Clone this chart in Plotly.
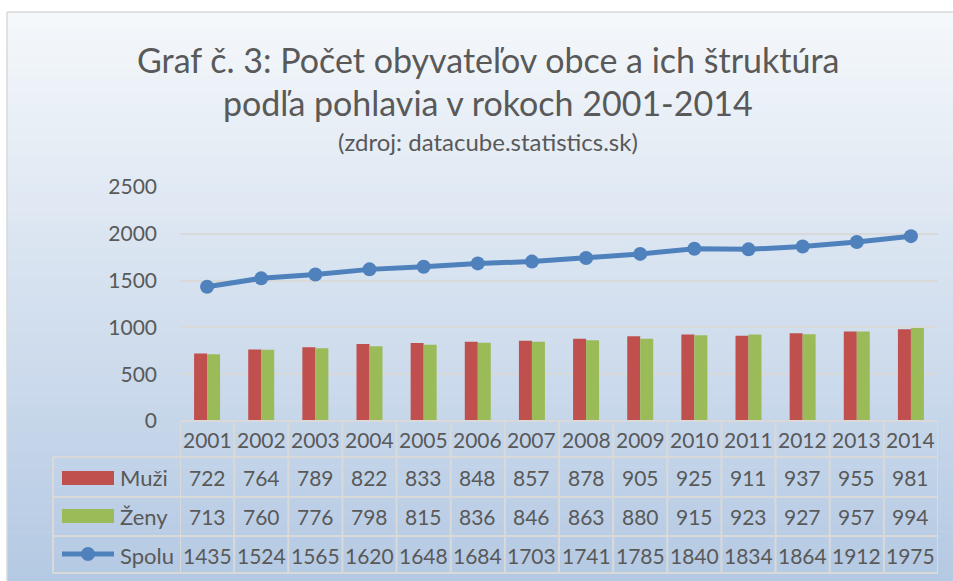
import plotly.graph_objects as go

years = ['2001', '2002', '2003', '2004', '2005', '2006', '2007',
         '2008', '2009', '2010', '2011', '2012', '2013', '2014']
muzi = [722, 764, 789, 822, 833, 848, 857, 878, 905, 925, 911, 937, 955, 981]
zeny = [713, 760, 776, 798, 815, 836, 846, 863, 880, 915, 923, 927, 957, 994]
spolu = [1435, 1524, 1565, 1620, 1648, 1684, 1703, 1741, 1785, 1840, 1834, 1864, 1912, 1975]
series_names = ['Muži', 'Ženy', 'Spolu']

W, H = 953, 581
# pixel coordinates of the plot area
L, R, T, B = 180, 938, 187, 421
FONT = 'Lato'
TXT = '#595959'
GRID = '#D9D9D9'
RED = '#C0504D'
GREEN = '#9BBB59'
BLUE = '#4F81BD'


def px(p):
    return (p - L) / (R - L)


def py(p):
    return (B - p) / (B - T)


fig = go.Figure()
fig.add_trace(go.Bar(x=years, y=muzi, name=series_names[0], marker_color=RED,
                     marker_line_width=0))
fig.add_trace(go.Bar(x=years, y=zeny, name=series_names[1], marker_color=GREEN,
                     marker_line_width=0))
fig.add_trace(go.Scatter(x=years, y=spolu, name=series_names[2], mode='lines+markers',
                         line=dict(color=BLUE, width=5),
                         marker=dict(color=BLUE, size=14)))

shapes = []
# background gradient
n = 80
top_c = (0xF5, 0xF8, 0xFB)
bot_c = (0xB4, 0xC9, 0xE3)
y0p, y1p = 12, 581
for k in range(n):
    a = y0p + (y1p - y0p) * k / n
    b = y0p + (y1p - y0p) * (k + 1) / n
    t = (k + 0.5) / n
    c = tuple(round(top_c[j] + (bot_c[j] - top_c[j]) * t) for j in range(3))
    shapes.append(dict(type='rect', xref='paper', yref='paper',
                       x0=px(7), x1=px(953), y0=py(a), y1=py(b + 0.6),
                       fillcolor='rgb(%d,%d,%d)' % c, line_width=0, layer='below'))
# chart border (top/left)
shapes.append(dict(type='line', xref='paper', yref='paper', x0=px(7), x1=px(953),
                   y0=py(12), y1=py(12), line=dict(color=GRID, width=1.5), layer='below'))
shapes.append(dict(type='line', xref='paper', yref='paper', x0=px(7), x1=px(7),
                   y0=py(12), y1=py(581), line=dict(color=GRID, width=1.5), layer='below'))

# data table grid
row_lines = [421, 457, 497, 536, 573]
for i, yy in enumerate(row_lines):
    xs = L if i == 0 else 53
    shapes.append(dict(type='line', xref='paper', yref='paper', x0=px(xs), x1=px(R),
                       y0=py(yy), y1=py(yy), line=dict(color=GRID, width=2), layer='above'))
for i in range(len(years) + 1):
    shapes.append(dict(type='line', xref='x', yref='paper', x0=i - 0.5, x1=i - 0.5,
                       y0=py(421), y1=py(573), line=dict(color=GRID, width=2), layer='above'))
shapes.append(dict(type='line', xref='paper', yref='paper', x0=px(53), x1=px(53),
                   y0=py(457), y1=py(573), line=dict(color=GRID, width=2), layer='above'))
# legend keys
shapes.append(dict(type='rect', xref='paper', yref='paper', x0=px(62), x1=px(114),
                   y0=py(485), y1=py(471), fillcolor=RED, line_width=0))
shapes.append(dict(type='rect', xref='paper', yref='paper', x0=px(62), x1=px(114),
                   y0=py(523), y1=py(509), fillcolor=GREEN, line_width=0))
shapes.append(dict(type='line', xref='paper', yref='paper', x0=px(62), x1=px(114),
                   y0=py(554), y1=py(554), line=dict(color=BLUE, width=5)))
shapes.append(dict(type='circle', xref='paper', yref='paper', x0=px(81), x1=px(95),
                   y0=py(561), y1=py(547), fillcolor=BLUE, line_width=0))

ann = []
tf = dict(family=FONT, size=21, color=TXT)
lf = dict(family=FONT, size=22, color=TXT)
row_centers = [439, 477, 516, 555]
table_rows = [years, muzi, zeny, spolu]
for r, vals in enumerate(table_rows):
    for i, v in enumerate(vals):
        ann.append(dict(x=i, y=py(row_centers[r]), xref='x', yref='paper', text=str(v),
                        showarrow=False, font=tf, xanchor='center', yanchor='middle'))
for r, name in enumerate(series_names):
    ann.append(dict(x=px(118), y=py(row_centers[r + 1]), xref='paper', yref='paper',
                    text=name, showarrow=False, font=lf, xanchor='left', yanchor='middle'))

# titles
ann.append(dict(x=px(488), y=py(60), xref='paper', yref='paper',
                text='Graf č. 3: Počet obyvateľov obce a ich štruktúra', showarrow=False,
                font=dict(family=FONT, size=34, color=TXT), xanchor='center', yanchor='middle'))
ann.append(dict(x=px(488), y=py(103), xref='paper', yref='paper',
                text='podľa pohlavia v rokoch 2001-2014', showarrow=False,
                font=dict(family=FONT, size=34, color=TXT), xanchor='center', yanchor='middle'))
ann.append(dict(x=px(488), y=py(141), xref='paper', yref='paper',
                text='(zdroj: datacube.statistics.sk)', showarrow=False,
                font=dict(family=FONT, size=24, color=TXT), xanchor='center', yanchor='middle'))

fig.update_layout(
    width=W, height=H,
    margin=dict(l=L, r=W - R, t=T, b=H - B, pad=0),
    paper_bgcolor='white', plot_bgcolor='rgba(0,0,0,0)',
    barmode='group', bargap=0.52, bargroupgap=0,
    showlegend=False, hovermode=False,
    shapes=shapes, annotations=ann,
    font=dict(family=FONT, color=TXT),
    xaxis=dict(type='category', range=[-0.5, 13.5], showticklabels=False,
               showgrid=False, showline=False, zeroline=False, ticks=''),
    yaxis=dict(range=[0, 2500], dtick=500, tick0=0, showgrid=True, gridcolor=GRID,
               gridwidth=2, zeroline=False, showline=False,
               tickfont=dict(family=FONT, size=21, color=TXT), ticklabelstandoff=22),
)

fig.write_html('out.html', config={'displayModeBar': False},
               post_script=("document.documentElement.style.overflow='hidden';"
                            "document.body.style.margin='0';"
                            "document.body.style.overflow='hidden';"))
